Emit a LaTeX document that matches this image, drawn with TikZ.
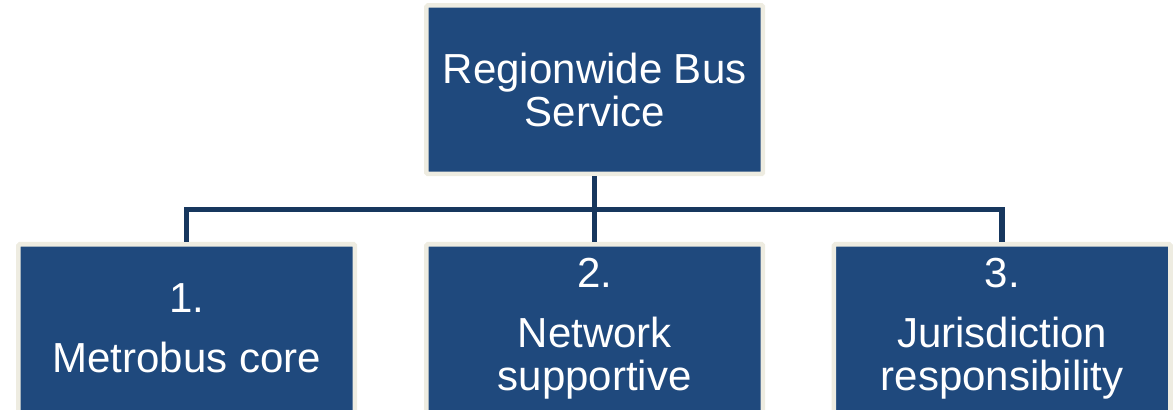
\documentclass[tikz,border=0pt]{standalone}
\usepackage{fontspec}
\setmainfont{Liberation Sans}
\definecolor{boxblue}{RGB}{31,73,125}
\definecolor{boxframe}{RGB}{238,236,225}
\definecolor{linkblue}{RGB}{23,55,94}
\tikzset{
  orgbox/.style={draw=boxframe, line width=3.4pt, fill=boxblue, rounded corners=1pt,
    minimum width=252.4pt, minimum height=126.4pt, inner sep=0pt,
    text=white, align=center, font=\fontsize{31.5}{32.25}\selectfont},
  link/.style={draw=linkblue, line width=4.1pt}
}
\begin{document}
\begin{tikzpicture}[x=0.75pt,y=0.75pt,yscale=-1,xscale=1]
	%set diagram left start at 0, and has height of 410
	\useasboundingbox (0,0) rectangle (1173,410);
	\clip (0,0) rectangle (1173,410);

	%Shape: Rectangle [top]
	\node [orgbox] (top) at (594.7,89.7) {Regionwide Bus\\Service};
	%Shape: Rectangle [b1]
	\node [orgbox] (b1) at (186.7,328.5) {1.\\[12.75pt]Metrobus core};
	%Shape: Rectangle [b2]
	\node [orgbox] (b2) at (594.7,328.5) {2.\\[12.75pt]Network\\supportive};
	%Shape: Rectangle [b3]
	\node [orgbox] (b3) at (1002.2,328.5) {3.\\[12.75pt]Jurisdiction\\responsibility};

	%Straight Lines
	\coordinate (bar) at (594.7,209.5);
	\draw [link] (top.south) -- (b2.north);
	\draw [link] (b1.north) |- (bar -| b3.north) -- (b3.north);
\end{tikzpicture}
\end{document}
